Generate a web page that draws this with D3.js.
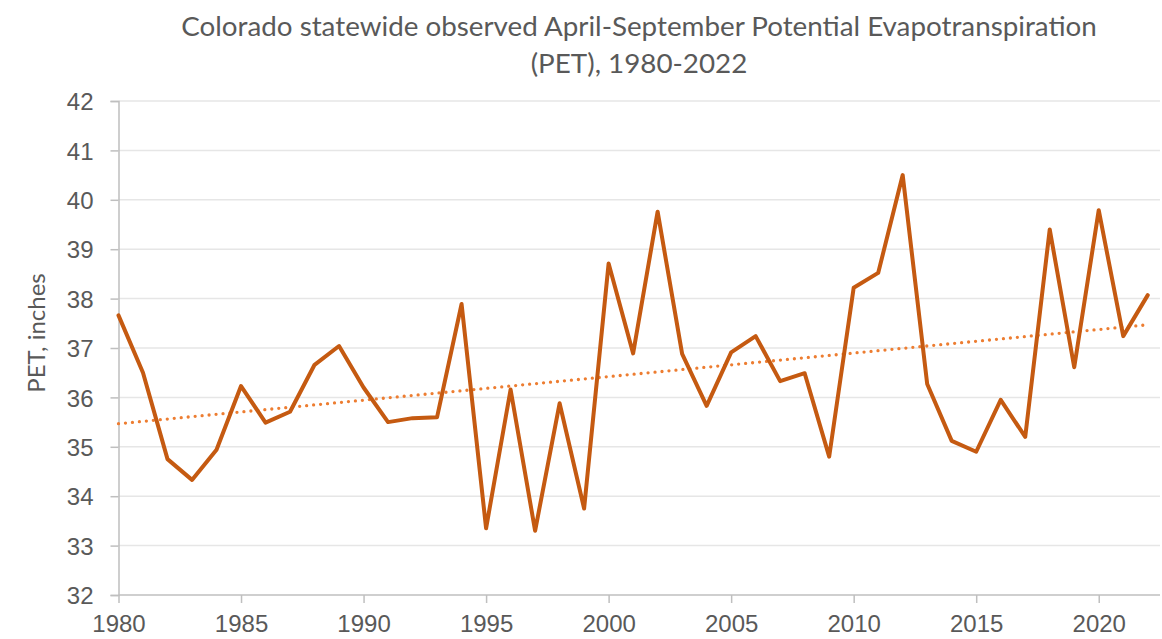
<!DOCTYPE html>
<html>
<head>
<meta charset="utf-8">
<script src="https://cdn.jsdelivr.net/npm/d3@7/dist/d3.min.js"></script>
<style>
  html, body { margin: 0; padding: 0; background: #fff; }
  svg { display: block; font-family: Lato, "Open Sans", sans-serif; }
</style>
</head>
<body>
<svg id="chart" width="1162" height="639"></svg>
<script>
// data
let years = d3.range(1980, 2023)
let pet = [
  37.66, 36.5, 34.75, 34.33, 34.94, 36.23, 35.49, 35.71, 36.66, 37.04,
  36.2, 35.5, 35.58, 35.6, 37.89, 33.35, 36.16, 33.3, 35.88, 33.75,
  38.71, 36.89, 39.76, 36.88, 35.83, 36.91, 37.24, 36.33, 36.49, 34.8,
  38.22, 38.52, 40.5, 36.27, 35.12, 34.9, 35.95, 35.2, 39.4, 36.61,
  39.79, 37.24, 38.07
]
let yTicks = d3.range(32, 43)
let xTicks = d3.range(1980, 2021, 5)
let titleLines = [
  'Colorado statewide observed April-September Potential Evapotranspiration',
  '(PET), 1980-2022'
]
let yLabel = 'PET, inches'

let svg = d3.select('#chart')
let textColor = '#595959'
let tickFont = '24px'

let x = d3.scaleLinear().domain([1980, 2022.5]).range([118.5, 1160])
let y = d3.scaleLinear().domain([32, 42]).range([595, 101])

// gridlines
svg.append('g')
  .selectAll('line')
  .data(yTicks.filter(d => d > 32))
  .join('line')
  .attr('x1', x(1980))
  .attr('x2', x(2022.5))
  .attr('y1', d => y(d))
  .attr('y2', d => y(d))
  .attr('stroke', '#E6E6E6')
  .attr('stroke-width', 1.5)

// y axis
let yAxis = svg.append('g')
  .attr('transform', `translate(${x(1980)},0)`)
  .call(d3.axisLeft(y).tickValues(yTicks).tickSize(8).tickPadding(17).tickFormat(d3.format('d')))
yAxis.select('.domain').attr('stroke', '#BFBFBF').attr('stroke-width', 1.5)
yAxis.selectAll('.tick line').attr('stroke', '#BFBFBF').attr('stroke-width', 1.5)
yAxis.selectAll('.tick text')
  .attr('fill', textColor)
  .style('font-size', tickFont)
  .attr('dy', '0.36em')

// x axis
let xAxis = svg.append('g')
  .attr('transform', `translate(0,${y(32)})`)
  .call(d3.axisBottom(x).tickValues(xTicks).tickSize(8).tickPadding(9).tickFormat(d3.format('d')))
xAxis.select('.domain').attr('stroke', '#BFBFBF').attr('stroke-width', 1.5)
  .attr('d', `M${x(1980)},0H${x(2022.5)}`)
xAxis.selectAll('.tick line').attr('stroke', '#BFBFBF').attr('stroke-width', 1.5)
xAxis.selectAll('.tick text')
  .attr('fill', textColor)
  .style('font-size', tickFont)
  .attr('dy', '0.85em')

// least squares trend
let pts = years.map((yr, i) => [yr, pet[i]])
let mx = d3.mean(years)
let my = d3.mean(pet)
let slope = d3.sum(pts, p => (p[0] - mx) * (p[1] - my)) / d3.sum(pts, p => (p[0] - mx) ** 2)
let icpt = my - slope * mx
let trend = [1980, 2022].map(yr => [yr, icpt + slope * yr])

let line = d3.line().x(d => x(d[0])).y(d => y(d[1]))

svg.append('path')
  .datum(trend)
  .attr('d', line)
  .attr('fill', 'none')
  .attr('stroke', '#ED7D31')
  .attr('stroke-width', 3.3)
  .attr('stroke-linecap', 'round')
  .attr('stroke-dasharray', '0 7')

svg.append('path')
  .datum(pts)
  .attr('d', line)
  .attr('fill', 'none')
  .attr('stroke', '#C55A11')
  .attr('stroke-width', 4)
  .attr('stroke-linejoin', 'round')
  .attr('stroke-linecap', 'round')

// title
let title = svg.append('text')
  .attr('fill', textColor)
  .attr('text-anchor', 'middle')
  .style('font-size', '28px')
title.selectAll('tspan')
  .data(titleLines)
  .join('tspan')
  .attr('x', 639)
  .attr('y', (d, i) => 36 + i * 37)
  .text(d => d)

// fit first title line to the reference width
let w = title.select('tspan').node().getComputedTextLength()
title.style('font-size', (28 * 916 / w).toFixed(2) + 'px')

// y label
svg.append('text')
  .attr('transform', `translate(45,333) rotate(-90)`)
  .attr('text-anchor', 'middle')
  .attr('fill', textColor)
  .style('font-size', tickFont)
  .text(yLabel)
</script>
</body>
</html>
